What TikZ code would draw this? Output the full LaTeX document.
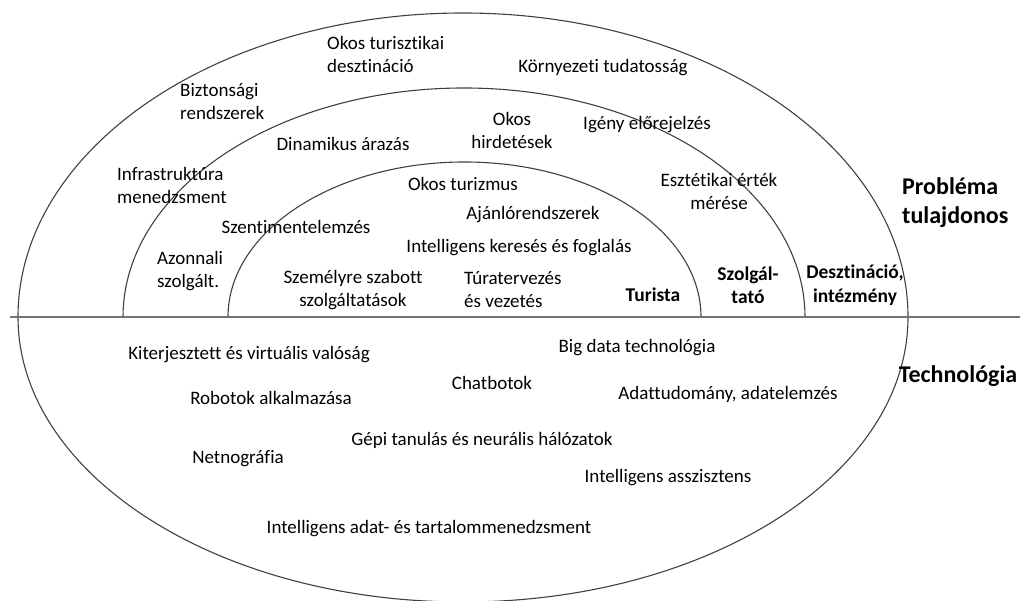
\documentclass[tikz,border=0pt]{standalone}
\usepackage{fontspec}
\setmainfont{Carlito}[Ligatures=NoCommon]

\begin{document}
\begin{tikzpicture}[x=1pt,y=1pt,
  ring/.style={draw=black!75, line width=1.1pt},
  txt/.style={font=\fontsize{19}{23}\selectfont, inner sep=0pt},
  role/.style={font=\fontsize{19.5}{23.5}\selectfont\bfseries, inner sep=0pt, align=center},
  axis label/.style={font=\fontsize{24}{29}\selectfont\bfseries, inner sep=0pt, align=left}]
  \useasboundingbox (0,0) rectangle (1020,601);
  % upper half: three rings
  \draw[ring] (18,284) arc[start angle=180, end angle=0, x radius=445, y radius=304];
  \draw[ring] (123,284) arc[start angle=180, end angle=0, x radius=341, y radius=229];
  \draw[ring] (228,284) arc[start angle=180, end angle=0, x radius=236.5, y radius=155];
  % lower half
  \draw[ring] (18,284) arc[start angle=180, end angle=360, x radius=445, y radius=285];
  \draw[black!55, line width=1.6pt] (10,284) -- (1020,284);

  % outer ring
  \node[txt, anchor=west, align=left] (okosdest) at (327,547) {Okos turisztikai\\desztináció};
  \node[txt, anchor=west, align=left] (bizt) at (180,499) {Biztonsági\\rendszerek};
  \node[txt] (kornyezet) at (603,533) {Környezeti tudatosság};
  \node[txt, anchor=west, align=left] (infra) at (117,416) {Infrastruktúra\\menedzsment};
  \node[txt, anchor=west, align=left] (azonnali) at (157,330) {Azonnali\\szolgált.};
  % middle ring
  \node[txt, align=center] (okoshird) at (512,471) {Okos\\hirdetések};
  \node[txt] (dinam) at (343,457) {Dinamikus árazás};
  \node[txt] (igeny) at (647,476) {Igény előrejelzés};
  \node[txt, align=center] (esztet) at (719,410) {Esztétikai érték\\mérése};
  \node[txt] (szenti) at (296,374) {Szentimentelemzés};
  % inner ring
  \node[txt] (okostur) at (463,417) {Okos turizmus};
  \node[txt] (ajanlo) at (533,386) {Ajánlórendszerek};
  \node[txt] (intker) at (519,353) {Intelligens keresés és foglalás};
  \node[txt, align=center] (szemely) at (353,311) {Személyre szabott\\szolgáltatások};
  \node[txt, anchor=west, align=left] (turater) at (464,311) {Túratervezés\\és vezetés};

  \node[role] (turista) at (653,306) {Turista};
  \node[role] (szolg) at (748,316) {Szolgál-\\tató};
  \node[role] (deszt) at (855,316) {Desztináció,\\intézmény};
  \node[axis label, anchor=west] (probl) at (902,398) {Probléma\\tulajdonos};
  \node[axis label] (techn) at (958,225) {Technológia};

  % technology half
  \node[txt] (kiterj) at (249,246) {Kiterjesztett és virtuális valóság};
  \node[txt] (bigdata) at (637,253) {Big data technológia};
  \node[txt] (chat) at (492,218) {Chatbotok};
  \node[txt] (robot) at (271,203) {Robotok alkalmazása};
  \node[txt] (adattud) at (728,207) {Adattudomány, adatelemzés};
  \node[txt] (gepi) at (482,161) {Gépi tanulás és neurális hálózatok};
  \node[txt] (netno) at (238,142) {Netnográfia};
  \node[txt] (intassz) at (668,123) {Intelligens asszisztens};
  \node[txt] (intadat) at (429,72) {Intelligens adat- és tartalommenedzsment};
\end{tikzpicture}
\end{document}
